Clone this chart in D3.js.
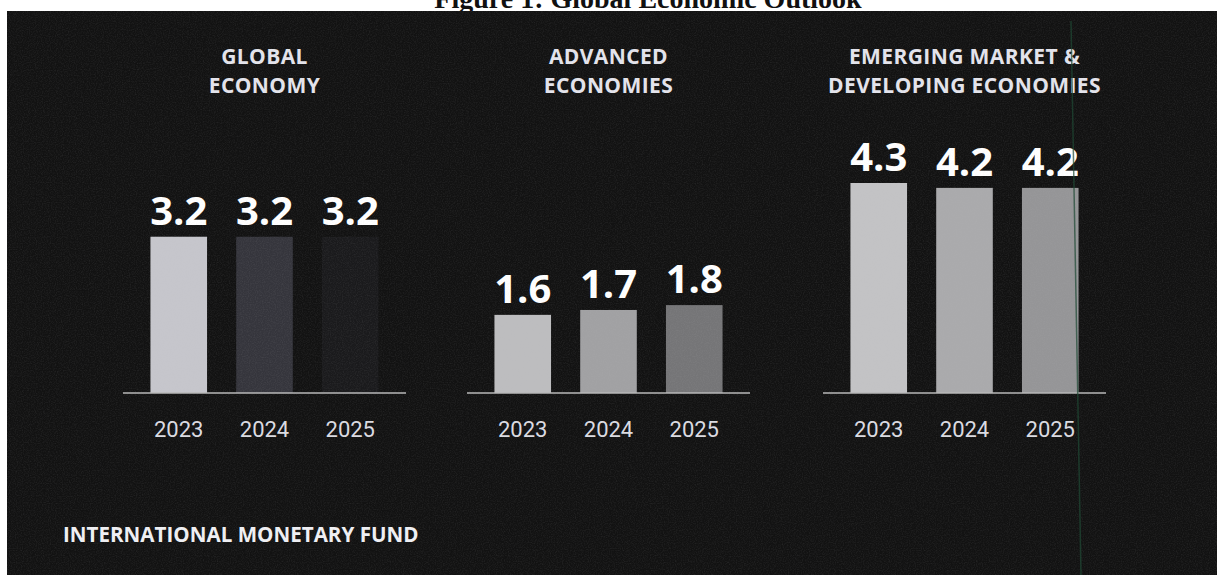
<!DOCTYPE html>
<html>
<head>
<meta charset="utf-8">
<script src="https://cdn.jsdelivr.net/npm/d3@7"></script>
<style>
  html, body { margin: 0; padding: 0; background: #ffffff; }
  svg { display: block; }
</style>
</head>
<body>
<svg id="chart" width="1217" height="575"></svg>
<script>
// Growth projections (percent) by economy group
const years = ["2023", "2024", "2025"];
const groupTitles = [
  ["GLOBAL", "ECONOMY"],
  ["ADVANCED", "ECONOMIES"],
  ["EMERGING MARKET &", "DEVELOPING ECONOMIES"]
];
const globalEconomy = [3.2, 3.2, 3.2];
const advancedEconomies = [1.6, 1.7, 1.8];
const emergingDeveloping = [4.3, 4.2, 4.2];
const barShades = [
  ["#c6c6cc", "#35353c", "#1a1a1c"],
  ["#bdbdbf", "#a1a1a3", "#757577"],
  ["#c3c3c5", "#aaaaac", "#959597"]
];

const groups = [globalEconomy, advancedEconomies, emergingDeveloping];

const W = 1217, H = 575;
const svg = d3.select("#chart");

// Grain filter for the dark print texture
const defs = svg.append("defs");
const grain = defs.append("filter").attr("id", "grain")
  .attr("x", 0).attr("y", 0).attr("width", "100%").attr("height", "100%");
grain.append("feTurbulence").attr("type", "fractalNoise")
  .attr("baseFrequency", 0.85).attr("numOctaves", 2).attr("seed", 7).attr("result", "n");
grain.append("feColorMatrix").attr("in", "n").attr("type", "matrix")
  .attr("values", "0 0 0 0 0.5  0 0 0 0 0.5  0 0 0 0 0.52  0 0 0 0.9 -0.35");

// Page heading above the dark panel
svg.append("text")
  .attr("x", 648).attr("y", 8)
  .attr("text-anchor", "middle")
  .attr("font-family", "'Liberation Serif', 'Times New Roman', serif")
  .attr("font-weight", "bold")
  .attr("font-size", 28)
  .attr("fill", "#111")
  .text("Figure 1: Global Economic Outlook");

// Dark panel
const panelTop = 11, panelLeft = 7;
svg.append("rect")
  .attr("x", panelLeft).attr("y", panelTop)
  .attr("width", W - panelLeft).attr("height", H - panelTop)
  .attr("fill", "#121212");

// Shared value scale across the three groups
const baseY = 393;
const y = d3.scaleLinear().domain([0, 4.3]).range([baseY, baseY - 210]);

const axisLeft = [123, 467, 823];
const axisWidth = 283;

const sans = "'Open Sans', 'Noto Sans', sans-serif";

groups.forEach((values, gi) => {
  const x0 = axisLeft[gi];
  const x = d3.scaleBand()
    .domain(years)
    .range([x0, x0 + axisWidth])
    .paddingInner(0.34)
    .paddingOuter(0.32);

  const g = svg.append("g");

  // Group title
  const title = g.append("text")
    .attr("x", x0 + axisWidth / 2)
    .attr("text-anchor", "middle")
    .attr("font-family", sans)
    .attr("font-weight", "bold")
    .attr("font-size", 21)
    .attr("letter-spacing", 0.4)
    .attr("fill", "#e4e4ec");
  groupTitles[gi].forEach((line, li) => {
    title.append("tspan")
      .attr("x", x0 + axisWidth / 2)
      .attr("y", 64 + li * 29)
      .text(line);
  });

  // Bars
  g.selectAll("rect.bar")
    .data(values)
    .join("rect")
    .attr("class", "bar")
    .attr("x", (d, i) => x(years[i]))
    .attr("y", d => y(d))
    .attr("width", x.bandwidth())
    .attr("height", d => baseY - y(d))
    .attr("fill", (d, i) => barShades[gi][i]);

  // Value labels
  g.selectAll("text.val")
    .data(values)
    .join("text")
    .attr("class", "val")
    .attr("x", (d, i) => x(years[i]) + x.bandwidth() / 2)
    .attr("y", d => y(d) - 12)
    .attr("text-anchor", "middle")
    .attr("font-family", sans)
    .attr("font-weight", "bold")
    .attr("font-size", 40)
    .attr("fill", "#ffffff")
    .text(d => d.toFixed(1));

  // Baseline axis with year labels
  const axis = d3.axisBottom(x).tickSize(0).tickPadding(0);
  const ag = g.append("g")
    .attr("transform", `translate(0,${baseY})`)
    .call(axis);
  ag.select(".domain")
    .attr("stroke", "#b8b8b8")
    .attr("stroke-width", 1.5)
    .attr("d", `M${x0},0H${x0 + axisWidth}`);
  ag.selectAll(".tick text")
    .attr("y", 44)
    .attr("dy", 0)
    .attr("font-family", "Roboto, 'Noto Sans', sans-serif")
    .attr("font-size", 22)
    .attr("fill", "#dcdce2");
});

// Organisation credit
svg.append("text")
  .attr("x", 63).attr("y", 542)
  .attr("font-family", sans)
  .attr("font-weight", "bold")
  .attr("font-size", 20.6)
  .attr("fill", "#f0f0f4")
  .text("INTERNATIONAL MONETARY FUND");

// Print grain over the whole dark panel
svg.append("rect")
  .attr("x", panelLeft).attr("y", panelTop)
  .attr("width", W - panelLeft).attr("height", H - panelTop)
  .attr("filter", "url(#grain)")
  .attr("opacity", 0.22)
  .style("pointer-events", "none");

// Faint vertical scan line on the right side
svg.append("line")
  .attr("x1", 1071).attr("y1", panelTop + 10)
  .attr("x2", 1081).attr("y2", H)
  .attr("stroke", "#1f4a35")
  .attr("stroke-width", 1.5)
  .attr("opacity", 0.7);
</script>
</body>
</html>
